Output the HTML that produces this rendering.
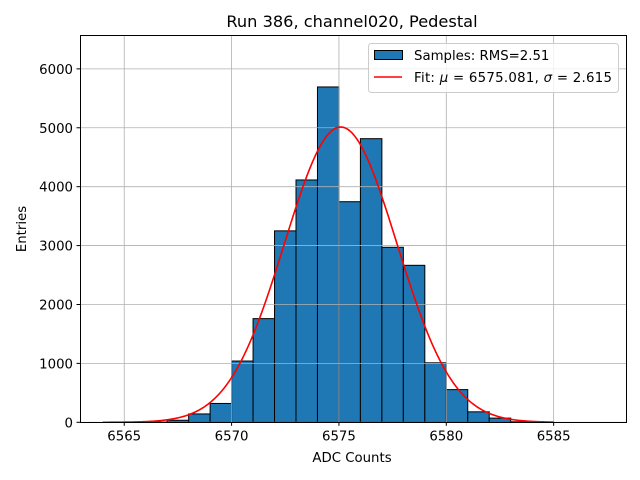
<!DOCTYPE html>
<html><head><meta charset="utf-8"><style>
html,body{margin:0;padding:0;background:#fff}
svg{display:block;font-family:"DejaVu Sans","Liberation Sans",sans-serif}
</style></head><body>
<svg id="chart" width="640" height="480" viewBox="0 0 640 480">
<rect width="640" height="480" fill="#fff"/>
<text x="352" y="27" font-size="16.2" text-anchor="middle">Run 386, channel020, Pedestal</text>
<g id="bars"></g>
<g id="grid"></g>
<path id="fit" fill="none" stroke="#ff0000" stroke-width="1.6"/>
<rect x="80.5" y="35.5" width="546" height="387" fill="none" stroke="#000" stroke-width="1"/>
<g id="axes" font-size="13.3"></g>
<text x="352" y="462" font-size="13.3" text-anchor="middle">ADC Counts</text>
<text transform="translate(26,229) rotate(-90)" font-size="13.3" text-anchor="middle">Entries</text>
<g>
<rect x="368.5" y="43.5" width="250" height="49" rx="3" fill="#fff" fill-opacity="0.8" stroke="#ccc"/>
<rect x="374.5" y="50.5" width="28" height="9" fill="#1f77b4" stroke="#000"/>
<text x="414" y="60" font-size="13.3">Samples: RMS=2.51</text>
<line x1="374" y1="77" x2="402" y2="77" stroke="#ff0000" stroke-width="1.6"/>
<text x="414" y="82" font-size="13.3" textLength="198">Fit: <tspan font-style="italic">μ</tspan> = 6575.081, <tspan font-style="italic">σ</tspan> = 2.615</text>
</g>
</svg>
<script>
const binStarts = [6566,6567,6568,6569,6570,6571,6572,6573,6574,6575,6576,6577,6578,6579,6580,6581,6582,6583];
const counts = [5,35,142,320,1040,1760,3250,4114,5693,3745,4815,2971,2665,1010,555,178,71,10];
const xTicks = [6565,6570,6575,6580,6585];
const yTicks = [0,1000,2000,3000,4000,5000,6000];
const fitParams = [5013,6575.081,2.615];
const fitRange = [6564,6585];

const NS="http://www.w3.org/2000/svg";
const X0=6562.94, X1=6588.37, Y1=6575;
const L=80,R=626,T=35,B=422.3;
const sx=v=>L+(v-X0)/(X1-X0)*(R-L);
const sy=v=>B-v/Y1*(B-T);
function mk(tag,attrs,parent){const e=document.createElementNS(NS,tag);for(const k in attrs)e.setAttribute(k,attrs[k]);parent.appendChild(e);return e;}
const bars=document.getElementById('bars');
binStarts.forEach((b,i)=>{
  const x0=sx(b),x1=sx(b+1),y=sy(counts[i]);
  const r=mk('rect',{x:x0,y:y,width:x1-x0,height:B-y,fill:'#1f77b4',stroke:'#000','stroke-width':1},bars);
  
  
});
const grid=document.getElementById('grid'), axes=document.getElementById('axes');
xTicks.forEach(t=>{
  const x=sx(t);
  const g=mk('line',{x1:x,x2:x,y1:T,y2:B,stroke:'#b0b0b0','stroke-width':0.8},grid);
  
  
  mk('line',{x1:x,x2:x,y1:B,y2:B+3.5,stroke:'#000'},axes);
  const tx=mk('text',{x:x,y:B+18,'text-anchor':'middle'},axes);
  tx.textContent=t;
  
  
});
yTicks.forEach(t=>{
  const y=sy(t);
  const g=mk('line',{x1:L,x2:R,y1:y,y2:y,stroke:'#b0b0b0','stroke-width':0.8},grid);
  
  
  mk('line',{x1:L-3.5,x2:L,y1:y,y2:y,stroke:'#000'},axes);
  const tx=mk('text',{x:L-7,y:y+5,'text-anchor':'end'},axes);
  tx.textContent=t;
  
  
});
let d='';
const [A,mu,sg]=fitParams;
for(let i=0;i<=300;i++){
  const v=fitRange[0]+(fitRange[1]-fitRange[0])*i/300;
  const f=A*Math.exp(-0.5*((v-mu)/sg)**2);
  d+=(i?'L':'M')+sx(v).toFixed(2)+','+sy(f).toFixed(2);
}
document.getElementById('fit').setAttribute('d',d);
</script>
</body></html>
